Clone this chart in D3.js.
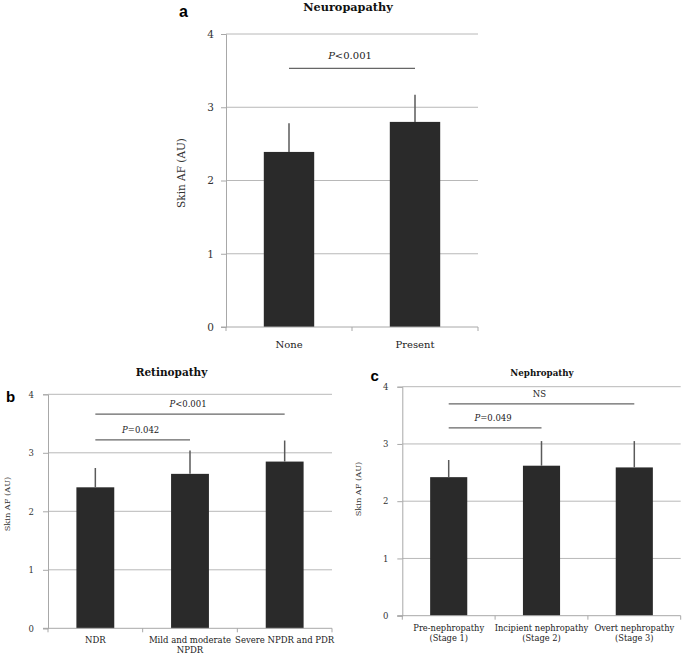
<!DOCTYPE html>
<html>
<head>
<meta charset="utf-8">
<script src="https://cdn.jsdelivr.net/npm/d3@7"></script>
<style>
  html, body { margin: 0; padding: 0; background: #fff; }
  svg { display: block; }
</style>
</head>
<body>
<svg id="chart" width="685" height="656"></svg>
<script>
// ---------- DATA ----------
const yTicks = [0, 1, 2, 3, 4];

const neuroCategories = [["None"], ["Present"]];
const neuroMeans = [2.39, 2.80];
const neuroUpper = [2.78, 3.17];
const neuroBrackets = [{ from: 0, to: 1, y: 3.53, p: "P", rest: "<0.001" }];

const retinoCategories = [["NDR"], ["Mild and moderate", "NPDR"], ["Severe NPDR and PDR"]];
const retinoMeans = [2.41, 2.64, 2.85];
const retinoUpper = [2.74, 3.04, 3.21];
const retinoBrackets = [
  { from: 0, to: 2, y: 3.66, p: "P", rest: "<0.001" },
  { from: 0, to: 1, y: 3.22, p: "P", rest: "=0.042" }
];

const nephroCategories = [["Pre-nephropathy", "(Stage 1)"], ["Incipient nephropathy", "(Stage 2)"], ["Overt nephropathy", "(Stage 3)"]];
const nephroMeans = [2.42, 2.62, 2.59];
const nephroUpper = [2.72, 3.05, 3.05];
const nephroBrackets = [
  { from: 0, to: 2, y: 3.70, p: "", rest: "NS" },
  { from: 0, to: 1, y: 3.28, p: "P", rest: "=0.049" }
];

// ---------- LAYOUT ----------
const svg = d3.select("#chart");
const SERIF = "'DejaVu Serif', 'Liberation Serif', serif";
const SANS = "'Liberation Sans', Arial, sans-serif";

const panels = [
  { letter: "a", title: "Neuropapathy", cats: neuroCategories, means: neuroMeans, upper: neuroUpper, brackets: neuroBrackets,
    left: 226, right: 478, top: 34, bottom: 327, tickFont: 10.5, labelFont: 10, axisFont: 10.5, titleFont: 11.3,
    titleX: 348, titleY: 11, letterX: 179, letterY: 17, letterFont: 16, yTitleX: 181, yTitleY: 173, brFont: 10, lineH: 12, xLabY: 21 },
  { letter: "b", title: "Retinopathy", cats: retinoCategories, means: retinoMeans, upper: retinoUpper, brackets: retinoBrackets,
    left: 48, right: 332, top: 394.3, bottom: 628.3, tickFont: 8.5, labelFont: 8.5, axisFont: 8.2, titleFont: 10.5,
    titleX: 171.5, titleY: 376, letterX: 6, letterY: 401.5, letterFont: 15, yTitleX: 7, yTitleY: 504, brFont: 8.5, lineH: 10, xLabY: 15 },
  { letter: "c", title: "Nephropathy", cats: nephroCategories, means: nephroMeans, upper: nephroUpper, brackets: nephroBrackets,
    left: 402.3, right: 680.7, top: 386.7, bottom: 615.7, tickFont: 8.5, labelFont: 8.3, axisFont: 8.2, titleFont: 8.7,
    titleX: 542, titleY: 376, letterX: 370.5, letterY: 381, letterFont: 15, yTitleX: 358, yTitleY: 489, brFont: 8.5, lineH: 10, xLabY: 15 }
];

panels.forEach(P => {
  const g = svg.append("g");
  const x = d3.scaleBand().domain(d3.range(P.cats.length)).range([P.left, P.right]).padding(0);
  const y = d3.scaleLinear().domain([0, 4]).range([P.bottom, P.top]);
  const barW = x.bandwidth() * 0.4;
  const cx = i => x(i) + x.bandwidth() / 2;

  // gridlines
  g.append("g").selectAll("line").data(yTicks.filter(t => t > 0)).join("line")
    .attr("x1", P.left).attr("x2", P.right)
    .attr("y1", d => y(d)).attr("y2", d => y(d))
    .attr("stroke", "#b8b8b8").attr("stroke-width", 1);

  // bars
  g.append("g").selectAll("rect").data(P.means).join("rect")
    .attr("x", (d, i) => cx(i) - barW / 2)
    .attr("width", barW)
    .attr("y", d => y(d))
    .attr("height", d => y(0) - y(d))
    .attr("fill", "#2a2a2a");

  // error bars (upper only)
  g.append("g").selectAll("line").data(P.upper).join("line")
    .attr("x1", (d, i) => cx(i)).attr("x2", (d, i) => cx(i))
    .attr("y1", (d, i) => y(P.means[i])).attr("y2", d => y(d))
    .attr("stroke", "#5a5a5a").attr("stroke-width", 1.5);

  // y axis
  const yAxis = g.append("g").attr("transform", `translate(${P.left},0)`)
    .call(d3.axisLeft(y).tickValues(yTicks).tickSize(5).tickPadding(P.letter === "a" ? 7 : 9).tickFormat(d3.format("d")));
  yAxis.select(".domain").attr("stroke", "#a8a8a8");
  yAxis.selectAll(".tick line").attr("stroke", "#a8a8a8");
  yAxis.selectAll(".tick text").attr("font-family", SERIF).attr("font-size", P.tickFont).attr("fill", "#333");

  // x axis
  const xAxisG = g.append("g").attr("transform", `translate(0,${P.bottom})`);
  xAxisG.append("line").attr("x1", P.left - 5).attr("x2", P.right).attr("y1", 0).attr("y2", 0)
    .attr("stroke", "#a8a8a8");
  const bounds = d3.range(P.cats.length + 1).map(i => i < P.cats.length ? x(i) : P.right);
  xAxisG.selectAll("line.tk").data(bounds).join("line").attr("class", "tk")
    .attr("x1", d => d).attr("x2", d => d).attr("y1", 0).attr("y2", 4)
    .attr("stroke", "#a8a8a8");
  P.cats.forEach((lines, i) => {
    const t = xAxisG.append("text").attr("text-anchor", "middle")
      .attr("font-family", SERIF).attr("font-size", P.labelFont).attr("fill", "#222")
      .attr("y", P.xLabY);
    lines.forEach((ln, k) => {
      t.append("tspan").attr("x", cx(i)).attr("dy", k === 0 ? 0 : P.lineH).text(ln);
    });
  });

  // brackets
  P.brackets.forEach(b => {
    g.append("line")
      .attr("x1", cx(b.from)).attr("x2", cx(b.to))
      .attr("y1", y(b.y)).attr("y2", y(b.y))
      .attr("stroke", "#666").attr("stroke-width", 1.3);
    const t = g.append("text").attr("text-anchor", "middle")
      .attr("x", (cx(b.from) + cx(b.to)) / 2 - 2)
      .attr("y", y(b.y) - (P.letter === "a" ? 9 : 7))
      .attr("font-family", SERIF).attr("font-size", P.brFont).attr("fill", "#222");
    if (b.p) t.append("tspan").attr("font-style", "italic").text(b.p);
    t.append("tspan").text(b.rest);
  });

  // title
  g.append("text").attr("x", P.titleX).attr("y", P.titleY).attr("text-anchor", "middle")
    .attr("font-family", SERIF).attr("font-weight", "bold").attr("font-size", P.titleFont)
    .attr("fill", "#111").text(P.title);

  // panel letter
  g.append("text").attr("x", P.letterX).attr("y", P.letterY)
    .attr("font-family", SANS).attr("font-weight", "bold").attr("font-size", P.letterFont)
    .attr("fill", "#000").text(P.letter);

  // y axis title
  g.append("text").attr("transform", `translate(${P.yTitleX},${P.yTitleY}) rotate(-90)`)
    .attr("text-anchor", "middle").attr("dominant-baseline", "central")
    .attr("font-family", SERIF).attr("font-size", P.axisFont).attr("fill", "#333")
    .text("Skin AF (AU)");
});
</script>
</body>
</html>
